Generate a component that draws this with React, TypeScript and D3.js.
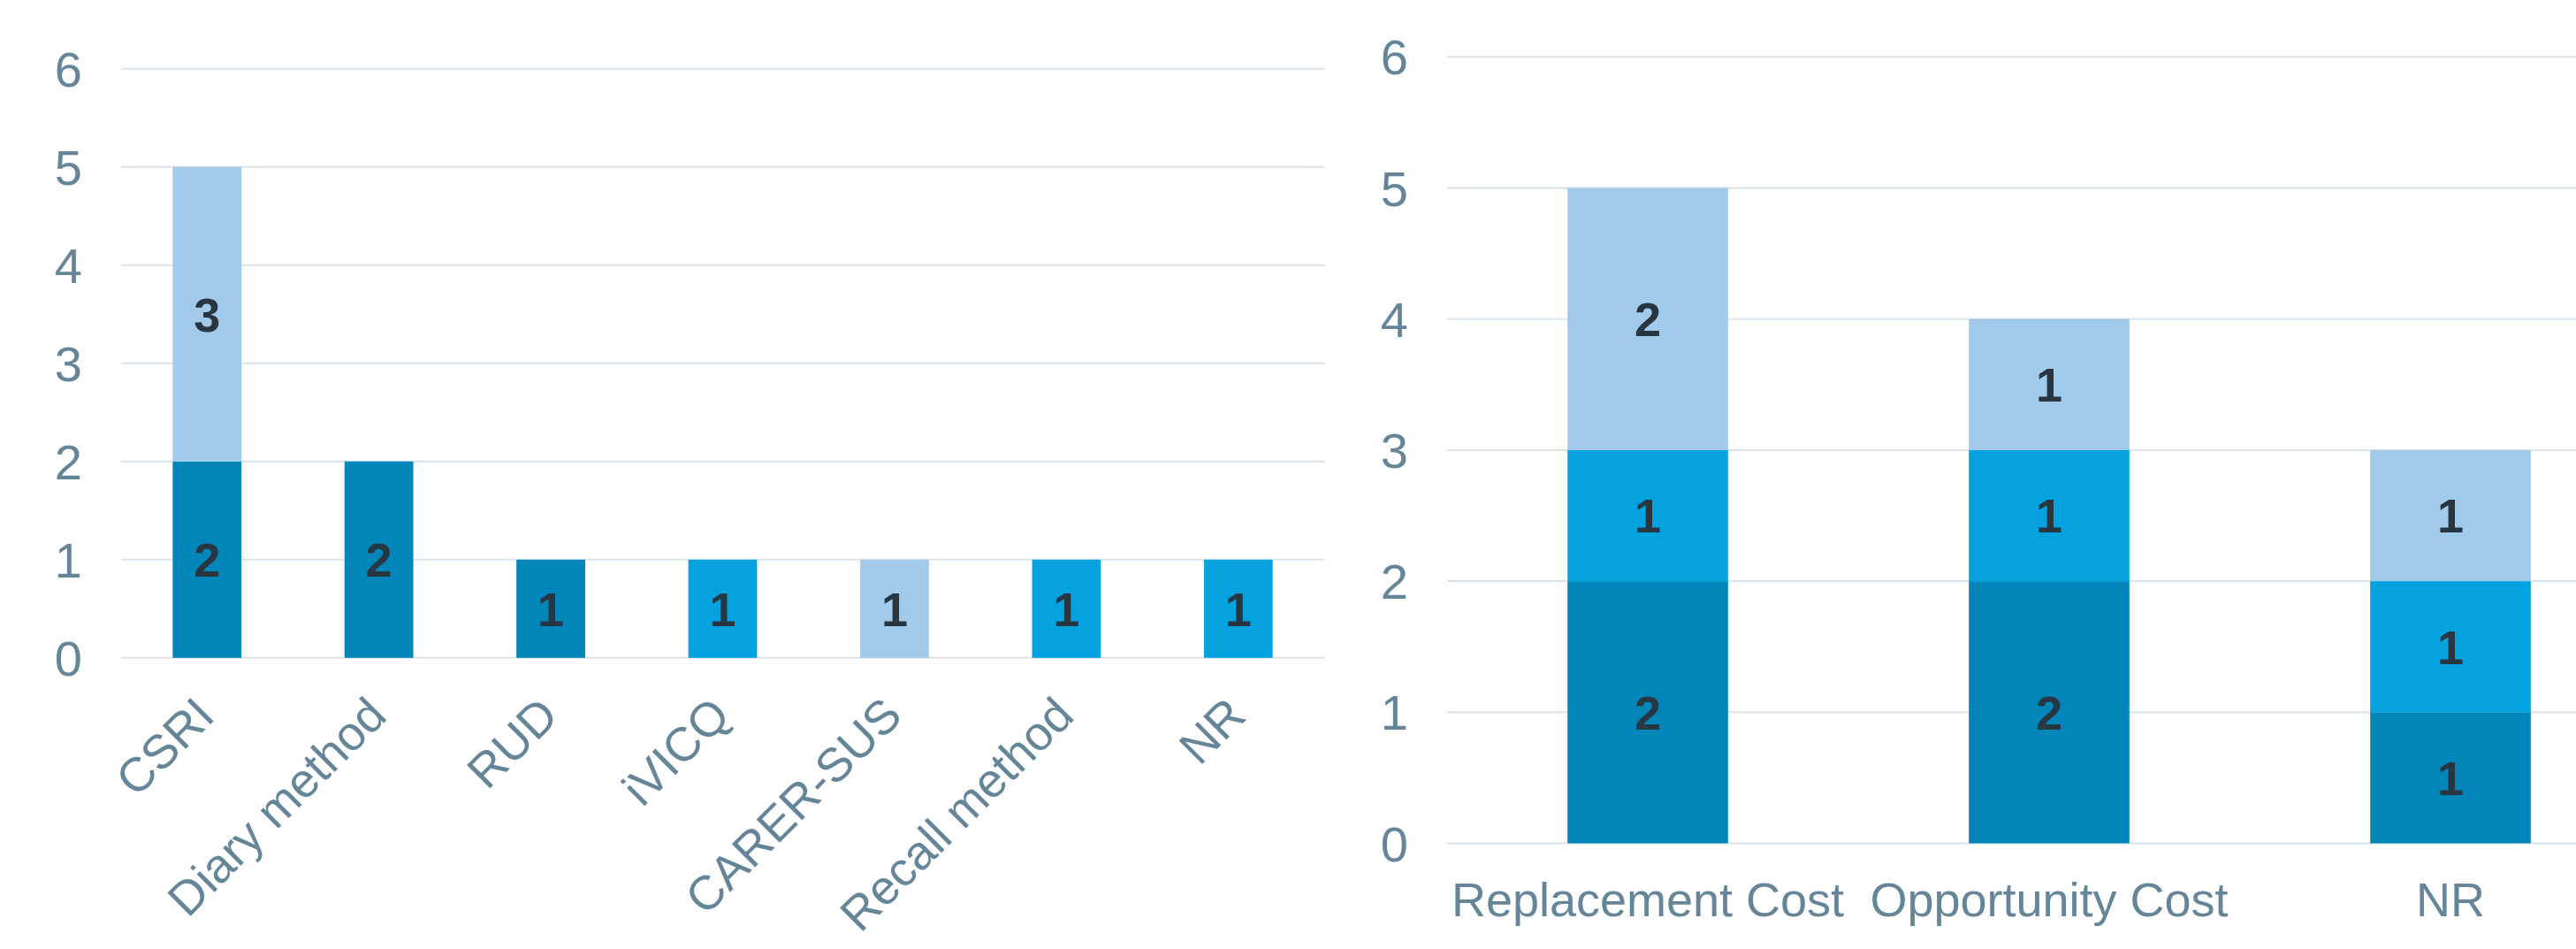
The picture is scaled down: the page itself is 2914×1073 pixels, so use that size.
import * as d3 from 'd3';

// left chart: instruments
const toolNames = ['CSRI', 'Diary method', 'RUD', 'iVICQ', 'CARER-SUS', 'Recall method', 'NR'];
const toolDark = [2, 2, 1, 0, 0, 0, 0];
const toolMid = [0, 0, 0, 1, 0, 1, 1];
const toolLight = [3, 0, 0, 0, 1, 0, 0];

// right chart: valuation methods
const methodNames = ['Replacement Cost', 'Opportunity Cost', 'NR'];
const methodDark = [2, 2, 1];
const methodMid = [1, 1, 1];
const methodLight = [2, 1, 1];

const yTicks = [0, 1, 2, 3, 4, 5, 6];

const seriesKeys = ['dark', 'mid', 'light'];
const colors = { dark: '#0286b9', mid: '#04a3e0', light: '#a1caeb' };

const W = 2914;
const H = 1073;
const FONT = '"Liberation Sans", Arial, sans-serif';
const AXIS = '#658599';
const GRID = '#dbe4ea';
const LABEL = '#283642';

function buildRows(names: string[], dark: number[], mid: number[], light: number[]) {
  return names.map((name, i) => ({ name, dark: dark[i], mid: mid[i], light: light[i] }));
}

type PanelProps = {
  rows: any[];
  x0: number;
  x1: number;
  yTop: number;
  yBottom: number;
  rotate: boolean;
};

const Panel = ({ rows, x0, x1, yTop, yBottom, rotate }: PanelProps) => {
  const x = d3.scaleBand<string>()
    .domain(rows.map(d => d.name))
    .range([x0, x1])
    .paddingInner(0.6)
    .paddingOuter(0.3);
  const y = d3.scaleLinear().domain([0, 6]).range([yBottom, yTop]);
  const stacked = d3.stack<any>().keys(seriesKeys)(rows);

  return (
    <g>
      {yTicks.map(t => (
        <g key={t}>
          <line x1={x0} x2={x1} y1={y(t)} y2={y(t)} stroke={GRID} strokeWidth={2} />
          <text x={x0 - 44} y={y(t)} dy="0.36em" textAnchor="end" fill={AXIS} fontSize={56} fontFamily={FONT}>
            {t}
          </text>
        </g>
      ))}
      {stacked.map(s => (
        <g key={s.key} fill={(colors as any)[s.key]}>
          {s.map((d, i) => {
            const v = d[1] - d[0];
            if (!v) return null;
            const bx = x(rows[i].name)!;
            return (
              <rect key={i} x={bx} y={y(d[1])} width={x.bandwidth()} height={y(d[0]) - y(d[1])} />
            );
          })}
        </g>
      ))}
      {stacked.map(s => (
        <g key={'l' + s.key}>
          {s.map((d, i) => {
            const v = d[1] - d[0];
            if (!v) return null;
            const cx = x(rows[i].name)! + x.bandwidth() / 2;
            return (
              <text key={i} x={cx} y={(y(d[0]) + y(d[1])) / 2} dy="0.36em" textAnchor="middle"
                fill={LABEL} fontSize={54} fontWeight="bold" fontFamily={FONT}>
                {v}
              </text>
            );
          })}
        </g>
      ))}
      {rows.map(r => {
        const cx = x(r.name)! + x.bandwidth() / 2;
        if (rotate) {
          const px = cx + 11;
          const py = yBottom + 68;
          return (
            <text key={r.name} x={px} y={py} transform={`rotate(-45 ${px} ${py})`} textAnchor="end"
              fill={AXIS} fontSize={54} fontFamily={FONT}>
              {r.name}
            </text>
          );
        }
        return (
          <text key={r.name} x={cx} y={yBottom + 82} textAnchor="middle" fill={AXIS} fontSize={54} fontFamily={FONT}>
            {r.name}
          </text>
        );
      })}
    </g>
  );
};

export default function App() {
  const leftRows = buildRows(toolNames, toolDark, toolMid, toolLight);
  const rightRows = buildRows(methodNames, methodDark, methodMid, methodLight);
  return (
    <div style={{ position: 'absolute', left: 0, top: 0, width: W, height: H, overflow: 'hidden' }}>
      <svg width={W} height={H} style={{ display: 'block', background: '#fff' }}>
        <Panel rows={leftRows} x0={137} x1={1498} yTop={77.7} yBottom={743.8} rotate={true} />
        <Panel rows={rightRows} x0={1637} x1={2999} yTop={64.3} yBottom={953.5} rotate={false} />
      </svg>
    </div>
  );
}
